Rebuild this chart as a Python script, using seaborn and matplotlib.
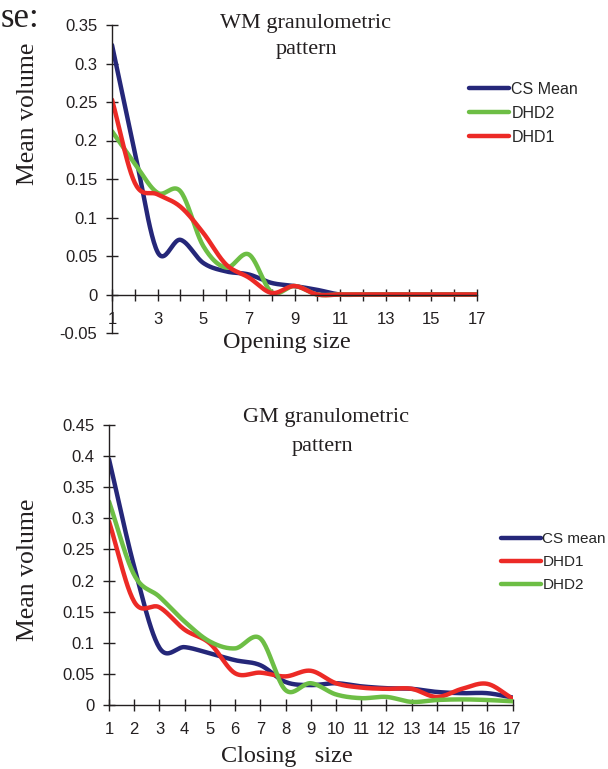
import numpy as np
import pandas as pd
import matplotlib
matplotlib.use("Agg")
import matplotlib.pyplot as plt
import seaborn as sns

# ---- data ----
sizes = list(range(1, 18))

wm_cs_mean = [0.324, 0.185, 0.055, 0.071, 0.041, 0.030, 0.026, 0.015, 0.011, 0.006,
              0.0, 0.0, 0.0, 0.0, 0.0, 0.0, 0.0]
wm_dhd2 = [0.212, 0.170, 0.132, 0.134, 0.063, 0.035, 0.052, 0.003, 0.011, 0.0,
           0.0, 0.0, 0.0, 0.0, 0.0, 0.0, 0.0]
wm_dhd1 = [0.253, 0.145, 0.130, 0.114, 0.080, 0.039, 0.022, 0.002, 0.011, 0.0,
           0.0, 0.0, 0.0, 0.0, 0.0, 0.0, 0.0]

gm_cs_mean = [0.395, 0.222, 0.092, 0.093, 0.083, 0.072, 0.064, 0.037, 0.032, 0.035,
              0.030, 0.027, 0.026, 0.021, 0.019, 0.019, 0.012]
gm_dhd1 = [0.295, 0.166, 0.157, 0.121, 0.099, 0.051, 0.052, 0.046, 0.055, 0.035,
           0.028, 0.026, 0.026, 0.013, 0.026, 0.034, 0.010]
gm_dhd2 = [0.327, 0.209, 0.174, 0.134, 0.102, 0.091, 0.107, 0.024, 0.035, 0.017,
           0.011, 0.013, 0.005, 0.008, 0.009, 0.008, 0.006]

wm_yticks = [-0.05, 0, 0.05, 0.1, 0.15, 0.2, 0.25, 0.3, 0.35]
wm_yticklabels = ["-0.05", "0", "0.05", "0.1", "0.15", "0.2", "0.25", "0.3", "0.35"]
gm_yticks = [0, 0.05, 0.1, 0.15, 0.2, 0.25, 0.3, 0.35, 0.4, 0.45]
gm_yticklabels = ["0", "0.05", "0.1", "0.15", "0.2", "0.25", "0.3", "0.35", "0.4", "0.45"]

NAVY = "#252779"
GREEN = "#6DBE45"
RED = "#EC2A26"


def smooth(xs, ys, n=24):
    """Catmull-Rom rendering of a series (like a spreadsheet's smoothed line)."""
    xs = np.asarray(xs, float)
    ys = np.asarray(ys, float)
    px = np.concatenate([[2 * xs[0] - xs[1]], xs, [2 * xs[-1] - xs[-2]]])
    py = np.concatenate([[2 * ys[0] - ys[1]], ys, [2 * ys[-1] - ys[-2]]])
    ox, oy = [], []
    for i in range(1, len(px) - 2):
        t = np.linspace(0, 1, n, endpoint=False)
        for p, out in ((px, ox), (py, oy)):
            p0, p1, p2, p3 = p[i - 1], p[i], p[i + 1], p[i + 2]
            out.extend(0.5 * ((2 * p1) + (-p0 + p2) * t
                              + (2 * p0 - 5 * p1 + 4 * p2 - p3) * t ** 2
                              + (-p0 + 3 * p1 - 3 * p2 + p3) * t ** 3))
    ox.append(xs[-1]); oy.append(ys[-1])
    return np.array(ox), np.array(oy)


sns.set_theme(style="white")
plt.rcParams["font.family"] = ["Liberation Sans", "DejaVu Sans"]
SERIF = ["Liberation Serif", "DejaVu Serif"]

W, H = 608, 769
fig = plt.figure(figsize=(W / 100, H / 100), dpi=100)
fig.patch.set_facecolor("white")


def axes_px(left, right, top, bottom):
    return fig.add_axes([left / W, 1 - bottom / H, (right - left) / W, (bottom - top) / H])


def style_axis(ax, xlabels_every):
    ax.set_facecolor("none")
    for s in ("top", "right"):
        ax.spines[s].set_visible(False)
    ax.spines["bottom"].set_position(("data", 0))
    for s in ("left", "bottom"):
        ax.spines[s].set_color("#231f20")
        ax.spines[s].set_linewidth(1.0)
    ax.tick_params(axis="both", which="major", bottom=True, left=True,
                   direction="inout", length=9, width=1.0,
                   colors="#231f20", labelsize=12, labelcolor="#231f20")
    ax.tick_params(axis="x", pad=8)
    ax.tick_params(axis="y", pad=6)
    ax.set_xlim(1, 17)
    ax.set_xticks(sizes)
    ax.set_xticklabels([str(s) if (s - 1) % xlabels_every == 0 else "" for s in sizes])
    ax.grid(False)
    ax.set_xlabel("")
    ax.set_ylabel("")


# ---- top chart (WM) ----
ax1 = axes_px(112, 477, 25, 333)
for vals, col, lab in ((wm_cs_mean, NAVY, "CS Mean"), (wm_dhd2, GREEN, "DHD2"),
                       (wm_dhd1, RED, "DHD1")):
    sx, sy = smooth(sizes, vals)
    sns.lineplot(x=sx, y=sy, ax=ax1, color=col, linewidth=3.2, label=lab,
                 sort=False, estimator=None)
ax1.set_ylim(-0.05, 0.35)
ax1.set_yticks(wm_yticks)
ax1.set_yticklabels(wm_yticklabels)
style_axis(ax1, 2)
h1, l1 = ax1.get_legend_handles_labels()
ax1.get_legend().remove()
fig.legend(h1, l1, loc="upper left", bbox_to_anchor=(469 / W, 1 - 82 / H),
           frameon=False, fontsize=11.5, handlelength=2.5, handletextpad=0.15,
           labelspacing=0.55, borderpad=0, borderaxespad=0)

fig.text(306 / W, 1 - 28 / H, "WM granulometric", family=SERIF, fontsize=16,
         ha="center", va="baseline", color="#231f20")
fig.text(306 / W, 1 - 54 / H, "pattern", family=SERIF, fontsize=16,
         ha="center", va="baseline", color="#231f20")
fig.text(28 / W, 1 - 114 / H, "Mean volume", family=SERIF, fontsize=18.5,
         rotation=90, ha="center", va="center", color="#231f20")
fig.text(287 / W, 1 - 348 / H, "Opening size", family=SERIF, fontsize=17.5,
         ha="center", va="baseline", color="#231f20")

# ---- bottom chart (GM) ----
ax2 = axes_px(109, 512.5, 425, 705)
for vals, col, lab in ((gm_cs_mean, NAVY, "CS mean"), (gm_dhd1, RED, "DHD1"),
                       (gm_dhd2, GREEN, "DHD2")):
    sx, sy = smooth(sizes, vals)
    sns.lineplot(x=sx, y=sy, ax=ax2, color=col, linewidth=3.2, label=lab,
                 sort=False, estimator=None)
ax2.set_ylim(0, 0.45)
ax2.set_yticks(gm_yticks)
ax2.set_yticklabels(gm_yticklabels)
style_axis(ax2, 1)
h2, l2 = ax2.get_legend_handles_labels()
ax2.get_legend().remove()
fig.legend(h2, l2, loc="upper left", bbox_to_anchor=(501 / W, 1 - 532 / H),
           frameon=False, fontsize=11, handlelength=2.6, handletextpad=0.1,
           labelspacing=0.6, borderpad=0, borderaxespad=0)

fig.text(326 / W, 1 - 422 / H, "GM granulometric", family=SERIF, fontsize=16,
         ha="center", va="baseline", color="#231f20")
fig.text(322 / W, 1 - 451 / H, "pattern", family=SERIF, fontsize=16,
         ha="center", va="baseline", color="#231f20")
fig.text(28 / W, 1 - 570 / H, "Mean volume", family=SERIF, fontsize=18.5,
         rotation=90, ha="center", va="center", color="#231f20")
fig.text(287 / W, 1 - 762 / H, "Closing   size", family=SERIF, fontsize=17.5,
         ha="center", va="baseline", color="#231f20")

# cut-off text from the surrounding page
fig.text(1 / W, 1 - 27 / H, "se:", family=SERIF, fontsize=25,
         ha="left", va="baseline", color="#231f20")

fig.savefig("out.png", dpi=100, facecolor="white")
